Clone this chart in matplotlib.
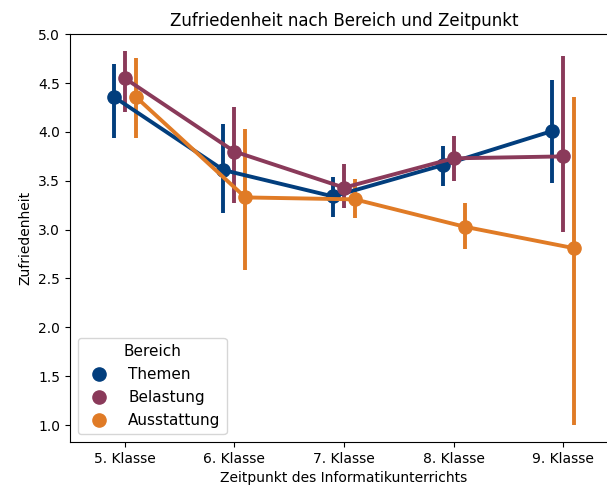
import numpy as np
import matplotlib
matplotlib.use("Agg")
import matplotlib.pyplot as plt
from matplotlib.lines import Line2D

# Kategorien und Gruppen
klassen = ["5. Klasse", "6. Klasse", "7. Klasse", "8. Klasse", "9. Klasse"]
bereiche = ["Themen", "Belastung", "Ausstattung"]
farben = ["#023e7d", "#8a3a5a", "#e07b26"]

# Mittelwerte pro Bereich
themen_mean = [4.36, 3.61, 3.34, 3.66, 4.01]
belastung_mean = [4.55, 3.80, 3.43, 3.73, 3.75]
ausstattung_mean = [4.36, 3.33, 3.31, 3.03, 2.81]

# Konfidenzintervalle (unten, oben)
themen_lo = [3.94, 3.17, 3.13, 3.45, 3.48]
themen_hi = [4.70, 4.08, 3.54, 3.86, 4.53]
belastung_lo = [4.20, 3.27, 3.22, 3.50, 2.98]
belastung_hi = [4.83, 4.26, 3.67, 3.96, 4.78]
ausstattung_lo = [3.94, 2.59, 3.12, 2.80, 1.00]
ausstattung_hi = [4.76, 4.03, 3.52, 3.27, 4.36]

means = [themen_mean, belastung_mean, ausstattung_mean]
lows = [themen_lo, belastung_lo, ausstattung_lo]
highs = [themen_hi, belastung_hi, ausstattung_hi]

fig = plt.figure(figsize=(6.07, 4.92), dpi=100)
ax = fig.add_axes([70 / 607, 1 - 442 / 492, 548 / 607, (442 - 34.3) / 492])

x = np.arange(len(klassen))
offsets = [-0.1, 0.0, 0.1]

for i in range(len(bereiche)):
    xs = x + offsets[i]
    ax.vlines(xs, lows[i], highs[i], color=farben[i], lw=2.8, zorder=2)
    ax.plot(xs, means[i], color=farben[i], lw=2.8, marker="o", markersize=9.5,
            zorder=3)

ax.set_xticks(x)
ax.set_xticklabels(klassen)
ax.set_xlim(-0.5, 4.5)
ax.set_ylim(0.826, 5.0)
ax.set_yticks(np.arange(1.0, 5.01, 0.5))
ax.set_xlabel("Zeitpunkt des Informatikunterrichts")
ax.set_ylabel("Zufriedenheit")
ax.set_title("Zufriedenheit nach Bereich und Zeitpunkt")

handles = [Line2D([], [], marker="o", linestyle="", color=c, markersize=9.5)
           for c in farben]
ax.legend(handles, bereiche, title="Bereich", loc="lower left",
          fontsize=11, title_fontsize=11, borderaxespad=0.5,
          labelspacing=0.52, handletextpad=0.9)

fig.savefig("out.png", dpi=100)
